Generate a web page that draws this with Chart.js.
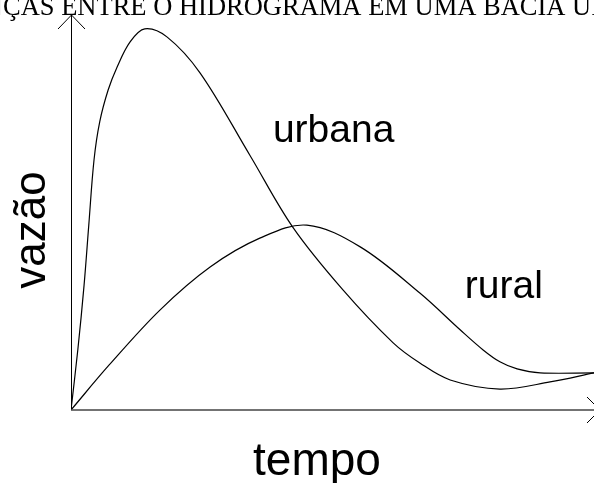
<!DOCTYPE html>
<html>
<head>
<meta charset="utf-8">
<script src="https://cdn.jsdelivr.net/npm/chart.js@4.4.1/dist/chart.umd.min.js"></script>
<style>
  html, body { margin: 0; padding: 0; background: #fff; }
  #wrap { width: 594px; height: 483px; }
</style>
</head>
<body>
<div id="wrap"><canvas id="grafico"></canvas></div>
<script>
// hidrograma - valores (tempo 0-100, vazao 0-100)
const tituloGrafico = 'DIFERENÇAS ENTRE O HIDROGRAMA EM UMA BACIA URBANA E RURAL'
const nomesSeries = ['urbana', 'rural']

const tempoUrbana = [0, 1.3, 2.5, 3.4, 4.4, 5.5, 7.1, 8.8, 11.3, 14.1, 18.4, 24.7, 34.2, 42.4, 52, 61.6, 66.7, 72.5, 82, 91.6, 100]
const vazaoUrbana = [0, 15.2, 31.6, 46.8, 63.3, 73, 81, 86.8, 93.2, 96.5, 94.4, 85.3, 64.5, 46.3, 30.4, 17, 11.9, 7.6, 5.3, 7.1, 9.4]

const tempoRural = [0, 7.3, 17, 26.6, 36.1, 45.1, 55.3, 66.7, 74.4, 78.8, 82, 85.3, 89.7, 100]
const vazaoRural = [0, 11.4, 25.3, 36.2, 43.5, 46.8, 41.3, 29.6, 20.3, 15.2, 12.2, 10.4, 9.4, 9.4]

function pontos(xs, ys) {
    let array = []
    for (let i = 0; i < xs.length; i++) {
        array.push({x: xs[i], y: ys[i]})
    }
    return array
}

// onde escrever o nome de cada curva (unidades dos eixos)
const posRotulos = [[38.6, 67.8], [75.3, 28.4]]

const textosPlugin = {
    id: 'textos',
    afterDraw(chart) {
        const ctx = chart.ctx
        const area = chart.chartArea
        const sx = chart.scales.x
        const sy = chart.scales.y
        ctx.save()

        // eixos com setas
        ctx.strokeStyle = '#000'
        ctx.lineWidth = 1
        ctx.beginPath()
        ctx.moveTo(area.left + 0.5, area.bottom)
        ctx.lineTo(area.left + 0.5, area.top)
        ctx.moveTo(area.left - 13, area.top + 14)
        ctx.lineTo(area.left + 0.5, area.top)
        ctx.lineTo(area.left + 14, area.top + 14)
        ctx.stroke()

        ctx.strokeStyle = '#444'
        ctx.lineWidth = 1.6
        ctx.beginPath()
        ctx.moveTo(area.left, area.bottom)
        ctx.lineTo(area.right + 6, area.bottom)
        ctx.stroke()
        ctx.strokeStyle = '#000'
        ctx.lineWidth = 1
        ctx.beginPath()
        ctx.moveTo(area.right - 7, area.bottom - 13)
        ctx.lineTo(area.right + 6, area.bottom)
        ctx.lineTo(area.right - 7, area.bottom + 13)
        ctx.stroke()

        // titulo (cortado nas bordas como no original)
        ctx.fillStyle = '#000'
        ctx.font = '26.5px "Liberation Serif", "Times New Roman", serif'
        ctx.textBaseline = 'alphabetic'
        ctx.textAlign = 'left'
        ctx.fillText(tituloGrafico, 3 - ctx.measureText('DIFEREN').width, 15)

        // nomes das curvas
        ctx.font = '39px "Liberation Sans", Arial, sans-serif'
        for (let i = 0; i < nomesSeries.length; i++) {
            ctx.fillText(nomesSeries[i], sx.getPixelForValue(posRotulos[i][0]), sy.getPixelForValue(posRotulos[i][1]))
        }

        // titulos dos eixos
        ctx.font = '46px "Liberation Sans", Arial, sans-serif'
        ctx.textAlign = 'center'
        ctx.fillText('tempo', 317, 475)

        ctx.translate(45, 230)
        ctx.rotate(-Math.PI / 2)
        ctx.font = '44px "Liberation Sans", Arial, sans-serif'
        ctx.fillText('vazão', 0, 0)
        ctx.restore()
    }
}

const ctxGrafico = document.getElementById('grafico').getContext('2d')
const grafico = new Chart(ctxGrafico, {
    type: 'line',
    data: {
        datasets: [{
                label: nomesSeries[0],
                data: pontos(tempoUrbana, vazaoUrbana),
                borderColor: '#000',
                borderWidth: 1.2,
                pointRadius: 0,
                fill: false,
                tension: 0.35
            }, {
                label: nomesSeries[1],
                data: pontos(tempoRural, vazaoRural),
                borderColor: '#000',
                borderWidth: 1.2,
                pointRadius: 0,
                fill: false,
                tension: 0.35
            }]
    },
    options: {
        responsive: true,
        maintainAspectRatio: false,
        animation: false,
        layout: {
            padding: {left: 71, right: 0, top: 15, bottom: 73}
        },
        plugins: {
            legend: {display: false},
            tooltip: {enabled: false}
        },
        scales: {
            x: {
                type: 'linear',
                min: 0,
                max: 100,
                display: false
            },
            y: {
                min: 0,
                max: 100,
                display: false
            }
        }
    },
    plugins: [textosPlugin]
})
</script>
</body>
</html>
